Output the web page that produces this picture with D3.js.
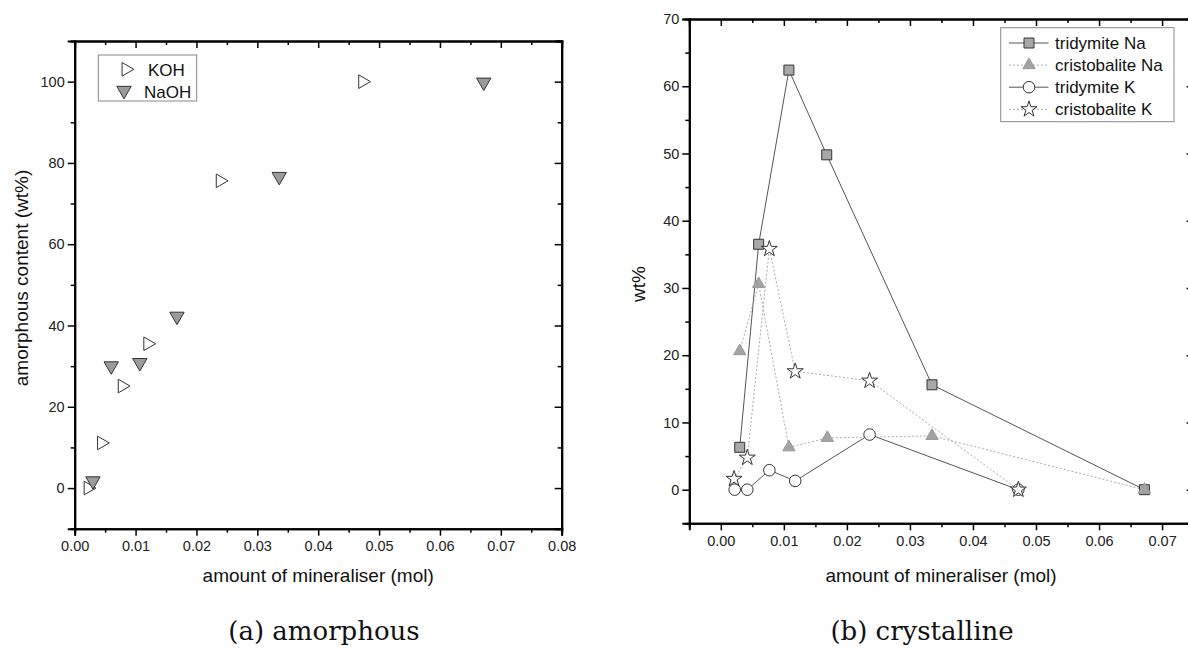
<!DOCTYPE html>
<html>
<head>
<meta charset="utf-8">
<script src="https://cdn.jsdelivr.net/npm/d3@7"></script>
<style>
  body { margin: 0; background: #fff; }
  svg { display: block; }
  .tick text { font-family: "Liberation Sans", Arial, sans-serif; font-size: 14.5px; fill: #222; }
  .axis-title { font-family: "Liberation Sans", Arial, sans-serif; font-size: 19px; fill: #111; }
  .legend-text { font-family: "Liberation Sans", Arial, sans-serif; font-size: 17px; fill: #111; }
  .caption { font-family: "DejaVu Serif", "Liberation Serif", serif; font-size: 26px; fill: #111; }
</style>
</head>
<body>
<div id="chart"></div>
<script>
// ---- panel (a): amorphous content ----
const kohX  = [0.0022, 0.0044, 0.0078, 0.0120, 0.0239, 0.0473];
const kohY  = [0, 11.1, 25.1, 35.5, 75.6, 100];
const naohX = [0.0030, 0.0060, 0.0107, 0.0168, 0.0336, 0.0672];
const naohY = [1.5, 29.8, 30.6, 42.0, 76.4, 99.6];
const aXTicks = [0, 0.01, 0.02, 0.03, 0.04, 0.05, 0.06, 0.07, 0.08];
const aYTicks = [0, 20, 40, 60, 80, 100];
const aLegend = ['KOH', 'NaOH'];

// ---- panel (b): crystalline phases ----
const triNaX = [0.0030, 0.0060, 0.0108, 0.0168, 0.0335, 0.0672];
const triNaY = [6.3, 36.5, 62.4, 49.8, 15.6, 0];
const criNaX = [0.0030, 0.0060, 0.0108, 0.0169, 0.0335, 0.0672];
const criNaY = [20.6, 30.6, 6.3, 7.7, 8.0, 0];
const triKX  = [0.0022, 0.0042, 0.0077, 0.0118, 0.0236, 0.0472];
const triKY  = [0, 0, 2.9, 1.3, 8.2, 0];
const criKX  = [0.0021, 0.0042, 0.0077, 0.0118, 0.0236, 0.0472];
const criKY  = [1.6, 4.75, 35.8, 17.6, 16.2, 0];
const bXTicks = [0, 0.01, 0.02, 0.03, 0.04, 0.05, 0.06, 0.07];
const bYTicks = [0, 10, 20, 30, 40, 50, 60, 70];
const bLegend = ['tridymite Na', 'cristobalite Na', 'tridymite K', 'cristobalite K'];

const width = 1188, height = 652;
const DARK = '#555', LIGHT = '#aaa';

const svg = d3.select('#chart').append('svg')
    .attr('width', width)
    .attr('height', height);
svg.append('rect').attr('width', width).attr('height', height).attr('fill', '#fff');

// minor ticks halfway between majors
function minors(major, lo, hi) {
    const step = major[1] - major[0];
    const out = [];
    for (let v = major[0] - step / 2; v <= hi + 1e-9; v += step) {
        if (v >= lo - 1e-9) out.push(+v.toFixed(6));
    }
    return out;
}

function styleAxis(g) {
    g.select('.domain').attr('stroke', '#000').attr('stroke-width', 2);
    g.selectAll('.tick line').attr('stroke', '#000').attr('stroke-width', 1.5);
}

// draws the boxed frame with major/minor ticks on all four sides
function drawFrame(x, y, xTicks, yTicks, xFmt, yFmt) {
    const [x0, x1] = x.range();
    const [y0, y1] = y.range();
    const xMin = minors(xTicks, x.domain()[0], x.domain()[1]);
    const yMin = minors(yTicks, y.domain()[0], y.domain()[1]);

    // bottom
    svg.append('g').attr('transform', `translate(0,${y0})`)
        .call(d3.axisBottom(x).tickValues(xMin).tickSize(4).tickFormat(''))
        .call(styleAxis);
    svg.append('g').attr('transform', `translate(0,${y0})`)
        .call(d3.axisBottom(x).tickValues(xTicks).tickSize(7).tickPadding(5).tickFormat(d3.format(xFmt)))
        .call(styleAxis);
    // left
    svg.append('g').attr('transform', `translate(${x0},0)`)
        .call(d3.axisLeft(y).tickValues(yMin).tickSize(4).tickFormat(''))
        .call(styleAxis);
    svg.append('g').attr('transform', `translate(${x0},0)`)
        .call(d3.axisLeft(y).tickValues(yTicks).tickSize(7).tickPadding(3).tickFormat(d3.format(yFmt)))
        .call(styleAxis);
    // top (ticks inward)
    svg.append('g').attr('transform', `translate(0,${y1})`)
        .call(d3.axisTop(x).tickValues(xMin).tickSize(-4).tickFormat(''))
        .call(styleAxis);
    svg.append('g').attr('transform', `translate(0,${y1})`)
        .call(d3.axisTop(x).tickValues(xTicks).tickSize(-7).tickFormat(''))
        .call(styleAxis);
    // right (ticks inward)
    svg.append('g').attr('transform', `translate(${x1},0)`)
        .call(d3.axisRight(y).tickValues(yMin).tickSize(-4).tickFormat(''))
        .call(styleAxis);
    svg.append('g').attr('transform', `translate(${x1},0)`)
        .call(d3.axisRight(y).tickValues(yTicks).tickSize(-7).tickFormat(''))
        .call(styleAxis);
}

function zip(xs, ys) { return xs.map((v, i) => ({ x: v, y: ys[i] })); }

// ---------------- panel (a) ----------------
const xA = d3.scaleLinear().domain([0, 0.08]).range([74.7, 561.7]);
const yA = d3.scaleLinear().domain([-10, 110]).range([528.7, 41]);
drawFrame(xA, yA, aXTicks, aYTicks, '.2f', 'd');

const triRight = d3.symbol().type(d3.symbolTriangle).size(80);
const triDown = d3.symbol().type(d3.symbolTriangle).size(90);

svg.append('g').selectAll('path')
    .data(zip(kohX, kohY))
    .join('path')
    .attr('d', triRight)
    .attr('transform', d => `translate(${xA(d.x)},${yA(d.y)}) rotate(90)`)
    .attr('fill', '#fff').attr('stroke', '#333').attr('stroke-width', 1);

svg.append('g').selectAll('path')
    .data(zip(naohX, naohY))
    .join('path')
    .attr('d', triDown)
    .attr('transform', d => `translate(${xA(d.x)},${yA(d.y) - 1}) rotate(180)`)
    .attr('fill', '#9b9b9b').attr('stroke', '#333').attr('stroke-width', 1);

// legend (a)
const legA = svg.append('g');
legA.append('rect').attr('x', 98.3).attr('y', 55).attr('width', 98.4).attr('height', 46)
    .attr('fill', '#fff').attr('stroke', '#888').attr('stroke-width', 1);
legA.append('path').attr('d', triRight).attr('transform', 'translate(126,69.3) rotate(90)')
    .attr('fill', '#fff').attr('stroke', '#333');
legA.append('path').attr('d', triDown).attr('transform', 'translate(124,90.5) rotate(180)')
    .attr('fill', '#9b9b9b').attr('stroke', '#333');
aLegend.forEach((t, i) => {
    legA.append('text').attr('class', 'legend-text')
        .attr('x', i === 0 ? 148 : 144).attr('y', 75.5 + i * 22).text(t);
});

svg.append('text').attr('class', 'axis-title')
    .attr('text-anchor', 'middle')
    .attr('x', (xA.range()[0] + xA.range()[1]) / 2).attr('y', 582)
    .text('amount of mineraliser (mol)');
svg.append('text').attr('class', 'axis-title')
    .attr('text-anchor', 'middle')
    .attr('transform', 'translate(28,278) rotate(-90)')
    .text('amorphous content (wt%)');
svg.append('text').attr('class', 'caption')
    .attr('text-anchor', 'middle')
    .attr('x', 324).attr('y', 640)
    .text('(a) amorphous');

// ---------------- panel (b) ----------------
const xB = d3.scaleLinear().domain([-0.005, 0.075]).range([689.3, 1193.6]);
const yB = d3.scaleLinear().domain([-5, 70]).range([523.3, 19]);
drawFrame(xB, yB, bXTicks, bYTicks, '.2f', 'd');

const line = d3.line().x(d => xB(d.x)).y(d => yB(d.y));

const series = [
    { name: bLegend[0], xs: triNaX, ys: triNaY, lineColor: DARK, dash: null,
      sym: d3.symbolSquare, size: 100, fill: '#a8a8a8', stroke: '#333' },
    { name: bLegend[2], xs: triKX, ys: triKY, lineColor: DARK, dash: null,
      sym: d3.symbolCircle, size: 105, fill: '#fff', stroke: '#333' },
    { name: bLegend[1], xs: criNaX, ys: criNaY, lineColor: LIGHT, dash: '2,2',
      sym: d3.symbolTriangle, size: 65, fill: '#a3a3a3', stroke: '#999' },
    { name: bLegend[3], xs: criKX, ys: criKY, lineColor: LIGHT, dash: '2,2',
      sym: d3.symbolStar, size: 80, fill: '#fff', stroke: '#333' }
];

series.forEach(s => {
    svg.append('path')
        .datum(zip(s.xs, s.ys))
        .attr('d', line)
        .attr('fill', 'none')
        .attr('stroke', s.lineColor)
        .attr('stroke-width', 1)
        .attr('stroke-dasharray', s.dash);
});
series.forEach(s => {
    const sym = d3.symbol().type(s.sym).size(s.size);
    svg.append('g').selectAll('path')
        .data(zip(s.xs, s.ys))
        .join('path')
        .attr('d', sym)
        .attr('transform', d => `translate(${xB(d.x)},${yB(d.y)})`)
        .attr('fill', s.fill).attr('stroke', s.stroke).attr('stroke-width', 1);
});

// legend (b), in the original order
const legOrder = [series[0], series[2], series[1], series[3]];
const legB = svg.append('g');
legB.append('rect').attr('x', 1000.7).attr('y', 27.7).attr('width', 173.3).attr('height', 94)
    .attr('fill', '#fff').attr('stroke', '#888').attr('stroke-width', 1);
legOrder.forEach((s, i) => {
    const cy = 43 + i * 22.1;
    legB.append('line').attr('x1', 1009).attr('x2', 1048.5).attr('y1', cy).attr('y2', cy)
        .attr('stroke', s.lineColor).attr('stroke-width', 1).attr('stroke-dasharray', s.dash);
    legB.append('path').attr('d', d3.symbol().type(s.sym).size(s.size))
        .attr('transform', `translate(1029,${cy})`)
        .attr('fill', s.fill).attr('stroke', s.stroke);
    legB.append('text').attr('class', 'legend-text')
        .attr('x', 1055).attr('y', cy + 6).text(s.name);
});

svg.append('text').attr('class', 'axis-title')
    .attr('text-anchor', 'middle')
    .attr('x', 941).attr('y', 582)
    .text('amount of mineraliser (mol)');
svg.append('text').attr('class', 'axis-title')
    .attr('text-anchor', 'middle')
    .attr('transform', 'translate(645,284) rotate(-90)')
    .text('wt%');
svg.append('text').attr('class', 'caption')
    .attr('text-anchor', 'middle')
    .attr('x', 922).attr('y', 640)
    .text('(b) crystalline');
</script>
</body>
</html>
